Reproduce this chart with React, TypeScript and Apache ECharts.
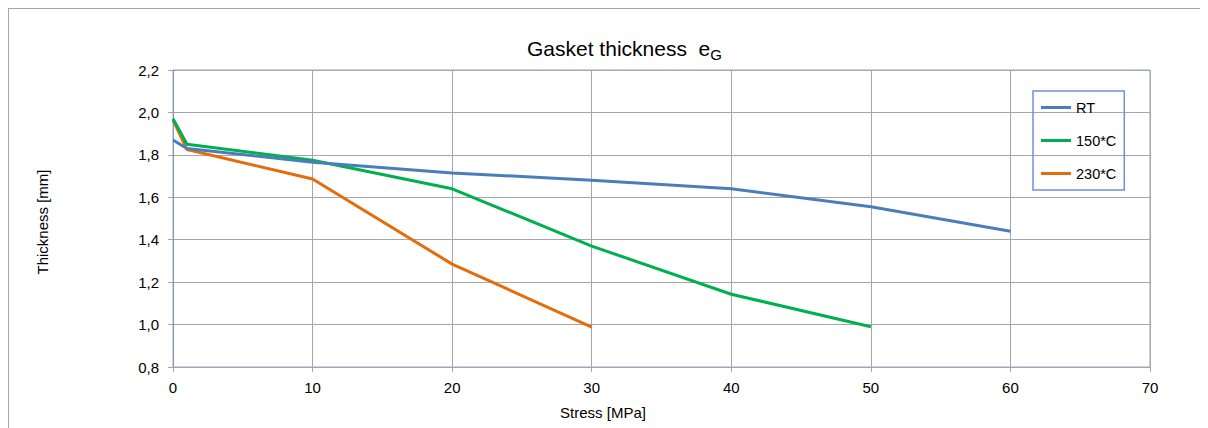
import React, { useEffect, useRef } from "react";
import * as echarts from "echarts";

const seriesNames = ["RT", "150*C", "230*C"];
const rtData: [number, number][] = [
  [0, 1.87], [1, 1.83], [10, 1.765], [20, 1.715], [30, 1.68], [40, 1.64], [50, 1.555], [60, 1.44],
];
const c150Data: [number, number][] = [
  [0, 1.97], [1, 1.85], [10, 1.775], [20, 1.64], [30, 1.37], [40, 1.143], [50, 0.99],
];
const c230Data: [number, number][] = [
  [0, 1.965], [1, 1.825], [10, 1.686], [20, 1.285], [30, 0.988],
];
const colors = ["#4A7EBB", "#00B050", "#E46C0A"];
const titleText = "Gasket thickness  e";
const titleSub = "G";
const xName = "Stress [MPa]";
const yName = "Thickness [mm]";

export default function App() {
  const ref = useRef<HTMLDivElement>(null);
  useEffect(() => {
    if (!ref.current) return;
    const chart = echarts.init(ref.current, undefined, { renderer: "svg" });
    const font = "'Liberation Sans', Arial, sans-serif";
    const datas = [rtData, c150Data, c230Data];
    chart.setOption({
      animation: false,
      textStyle: { fontFamily: font },
      title: {
        text: titleText + "{sub|" + titleSub + "}",
        left: 513,
        top: 20,
        textStyle: {
          fontSize: 21,
          fontWeight: "normal",
          color: "#000",
          fontFamily: font,
          rich: {
            sub: { fontSize: 15, color: "#000", fontFamily: font, padding: [13, 0, 0, 0] },
          },
        },
      },
      grid: {
        left: 164,
        right: 58,
        top: 61,
        bottom: 61,
        show: true,
        borderColor: "#8EA9D8",
        borderWidth: 1,
      },
      legend: {
        orient: "vertical",
        left: 1024,
        top: 82,
        data: seriesNames,
        icon: "rect",
        itemWidth: 30,
        itemHeight: 3,
        itemGap: 18,
        padding: [9, 8, 9, 8],
        borderColor: "#6F8FE0",
        borderWidth: 1.5,
        textStyle: { fontSize: 14.5, color: "#000", fontFamily: font },
      },
      xAxis: {
        type: "value",
        min: 0,
        max: 70,
        interval: 10,
        axisLine: { show: true, lineStyle: { color: "#A6A6A6", width: 1 } },
        axisTick: { show: true, length: 5, lineStyle: { color: "#A6A6A6" } },
        axisLabel: { color: "#000", fontSize: 15, margin: 13, fontFamily: font },
        splitLine: { show: true, lineStyle: { color: "#A6A6A6", width: 1 } },
      },
      yAxis: {
        type: "value",
        min: 0.8,
        max: 2.2,
        interval: 0.2,
        axisLine: { show: true, lineStyle: { color: "#8C9AAE", width: 1 } },
        axisTick: { show: true, length: 5, lineStyle: { color: "#A6A6A6" } },
        axisLabel: {
          color: "#000",
          fontSize: 15,
          margin: 14,
          fontFamily: font,
          formatter: (v: number) => v.toFixed(1).replace(".", ","),
        },
        splitLine: { show: true, lineStyle: { color: "#A6A6A6", width: 1 } },
      },
      graphic: [
        {
          type: "text",
          x: 594,
          y: 403,
          style: { text: xName, fontSize: 15, fill: "#000", font: "15px " + font, textAlign: "center", textVerticalAlign: "middle" },
        },
        {
          type: "text",
          x: 33,
          y: 213,
          rotation: Math.PI / 2,
          style: { text: yName, fontSize: 15, fill: "#000", font: "15px " + font, textAlign: "center", textVerticalAlign: "middle" },
        },
      ],
      series: seriesNames.map((n, i) => ({
        name: n,
        type: "line",
        data: datas[i],
        showSymbol: false,
        symbol: "none",
        lineStyle: { color: colors[i], width: 3 },
        itemStyle: { color: colors[i] },
        z: 3 - i,
      })),
    });
    return () => chart.dispose();
  }, []);
  return (
    <div style={{ width: 1200, height: 420, borderTop: "1px solid #A6A6A6", borderLeft: "1px solid #A6A6A6", boxSizing: "border-box", position: "relative" }}>
      <div ref={ref} style={{ width: 1199, height: 419 }} />
    </div>
  );
}
